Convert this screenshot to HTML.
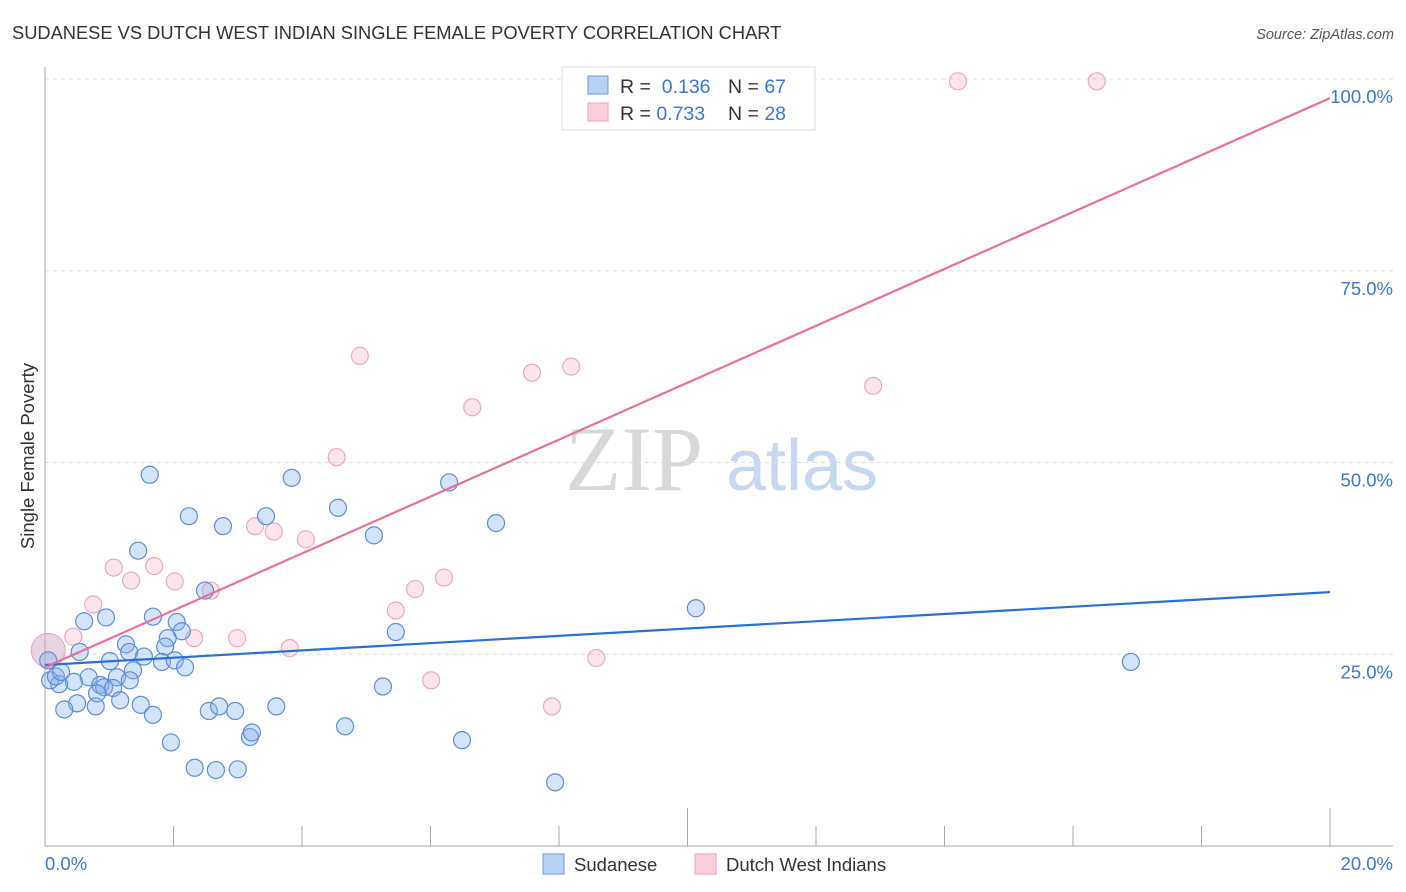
<!DOCTYPE html>
<html><head><meta charset="utf-8"><style>
body{margin:0;background:#fff;font-family:"Liberation Sans",sans-serif}
svg{display:block}
</style></head><body>
<svg id="c" width="1406" height="892" xmlns="http://www.w3.org/2000/svg">
<text x="12" y="39" font-size="18.3" fill="#333">SUDANESE VS DUTCH WEST INDIAN SINGLE FEMALE POVERTY CORRELATION CHART</text>
<text x="1394" y="39" font-size="14.5" fill="#555" font-style="italic" text-anchor="end">Source: ZipAtlas.com</text>
<g>
<text x="634" y="490" font-size="92" fill="#d8d8d8" font-family="Liberation Serif,serif" text-anchor="middle">ZIP</text>
<text x="802" y="490" font-size="72" fill="#c6d8f0" text-anchor="middle">atlas</text>
</g>
<g id="grid"></g>
<g id="axes"></g>
<g id="pts"></g>
<g id="lines"></g>
<text transform="translate(34,456) rotate(-90)" font-size="18.5" fill="#333" text-anchor="middle">Single Female Poverty</text>
<g>
<rect x="562" y="67" width="253" height="63" fill="#fff" stroke="#ddd"/>
<rect x="588" y="76" width="20" height="18" fill="#b7d1f5" stroke="#6a9ae0"/>
<rect x="588" y="103" width="20" height="18" fill="#fbcfdc" stroke="#f0a0b8"/>
<text x="620" y="93" font-size="19.5" fill="#333">R = <tspan fill="#3a78d6">&#160;0.136</tspan><tspan x="728">N = </tspan><tspan fill="#3a78d6">67</tspan></text>
<text x="620" y="120" font-size="19.5" fill="#333">R = <tspan fill="#3a78d6">0.733</tspan><tspan x="728">N = </tspan><tspan fill="#3a78d6">28</tspan></text>
</g>
<g>
<rect x="543" y="854" width="21" height="20" fill="#b7d1f5" stroke="#6a9ae0"/>
<text x="574" y="871" font-size="18.5" fill="#333">Sudanese</text>
<rect x="695" y="854" width="21" height="20" fill="#fbcfdc" stroke="#f0a0b8"/>
<text x="726" y="871" font-size="18.5" fill="#333">Dutch West Indians</text>
</g>
</svg>
<script>
const xTicks=[0,1,2,3,4,5,6,7,8,9,10];
const yTicks=[25,50,75,100];
const blueX=[1.63,3.84,6.29,2.24,2.77,3.44,4.56,5.12,7.02,1.45,2.49,0.95,0.61,1.68,2.05,2.13,1.91,1.26,1.87,5.46,10.13,16.90,0.54,1.01,1.31,1.54,1.82,2.02,2.18,1.37,1.12,0.68,0.45,0.22,0.08,0.17,0.05,0.86,0.92,1.06,1.17,0.79,0.50,0.30,1.49,1.68,2.55,2.71,2.96,3.60,5.26,1.96,3.19,3.22,4.67,6.49,2.33,2.66,3.00,7.94,1.32,0.81,0.25];
const blueY=[48.4,48.0,47.4,43.0,41.7,43.0,44.1,40.5,42.1,38.5,33.3,29.8,29.3,29.9,29.2,28.0,27.1,26.3,26.0,27.9,31.0,24.0,25.3,24.1,25.3,24.7,24.0,24.2,23.3,22.9,22.0,22.0,21.4,21.1,21.6,22.1,24.2,21.0,20.7,20.6,19.0,18.2,18.6,17.8,18.4,17.1,17.6,18.2,17.6,18.2,20.8,13.5,14.2,14.8,15.6,13.8,10.2,9.9,10.0,8.3,21.6,19.9,22.7];
const pinkX=[14.21,16.37,4.90,7.58,8.19,12.89,6.65,4.54,3.27,3.56,4.06,1.07,1.70,1.34,2.02,2.58,0.75,5.76,6.21,5.46,0.44,2.32,2.99,3.81,8.58,6.01,7.89];
const pinkY=[99.7,99.7,63.9,61.7,62.5,60.0,57.2,50.7,41.7,41.0,40.0,36.3,36.5,34.6,34.5,33.3,31.5,33.5,35.0,30.7,27.3,27.1,27.1,25.8,24.5,21.6,18.2];
const blueTrend=[23.6,33.1];
const pinkTrend=[23.3,97.5];
const NS="http://www.w3.org/2000/svg";
const X0=45,X1=1330,Y0=846,Y100=79;
const sx=v=>X0+(X1-X0)*v/20;
const sy=v=>Y0-(Y0-Y100)*v/100;
function mk(t,a,p){const e=document.createElementNS(NS,t);for(const k in a)e.setAttribute(k,a[k]);p.appendChild(e);return e;}
const grid=document.getElementById('grid'),axes=document.getElementById('axes'),pts=document.getElementById('pts'),lines=document.getElementById('lines');
yTicks.forEach(v=>{
const l=mk('line',{x1:X0,x2:1393,y1:sy(v),y2:sy(v),stroke:'#ddd','stroke-dasharray':'4,4'},grid);


const t=mk('text',{x:1393,y:sy(v)+24,'font-size':18.5,fill:'#3a78d6','text-anchor':'end'},grid);
t.textContent=v.toFixed(1)+'%';


});
const ya=mk('line',{x1:X0,x2:X0,y1:67,y2:Y0,stroke:'#aaa'},axes);


const xa=mk('line',{x1:X0,x2:1393,y1:Y0,y2:Y0,stroke:'#aaa'},axes);


xTicks.forEach(v=>{
const tk=mk('line',{x1:sx(v*2),x2:sx(v*2),y1:Y0-(v%5==0&&v>0?38:20),y2:Y0,stroke:'#aaa'},axes);


});
const xl0=mk('text',{x:45,y:870,'font-size':18.5,fill:'#3a78d6'},axes);xl0.textContent='0.0%';


const xl1=mk('text',{x:1393,y:870,'font-size':18.5,fill:'#3a78d6','text-anchor':'end'},axes);xl1.textContent='20.0%';


const big=mk('circle',{cx:sx(0.05),cy:sy(25.5),r:17,fill:'rgba(200,160,190,0.45)',stroke:'#f0a0b8'},pts);


pinkX.forEach((x,i)=>{
const c=mk('circle',{cx:sx(x),cy:sy(pinkY[i]),r:8.5,fill:'rgba(248,180,200,0.35)',stroke:'#f0a8bf','stroke-width':1.2},pts);


});
blueX.forEach((x,i)=>{
const c=mk('circle',{cx:sx(x),cy:sy(blueY[i]),r:8.5,fill:'rgba(130,175,235,0.35)',stroke:'#5b8fd9','stroke-width':1.2},pts);


});
const bl=mk('line',{x1:sx(0),y1:sy(blueTrend[0]),x2:sx(20),y2:sy(blueTrend[1]),stroke:'#2a6fd6','stroke-width':2.2},lines);


const pl=mk('line',{x1:sx(0),y1:sy(pinkTrend[0]),x2:sx(20),y2:sy(pinkTrend[1]),stroke:'#e8709a','stroke-width':2.2},lines);


</script>
</body></html>
